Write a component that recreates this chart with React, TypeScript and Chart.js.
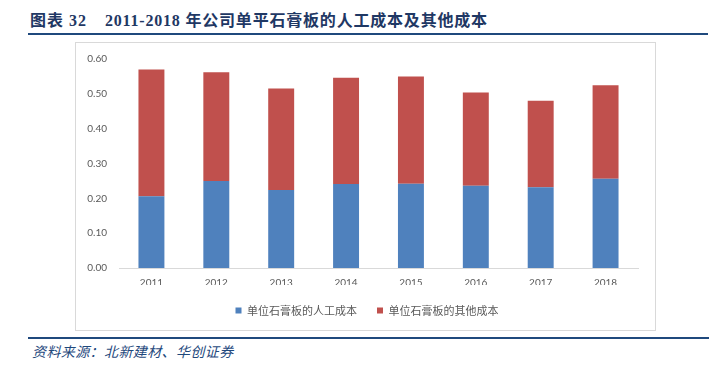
import React, { useEffect, useRef } from "react";
import { Chart, registerables } from "chart.js";

Chart.register(...registerables);

const years = ["2011", "2012", "2013", "2014", "2015", "2016", "2017", "2018"];
const laborCost = [0.206, 0.25, 0.224, 0.241, 0.242, 0.236, 0.232, 0.256];
const otherCost = [0.364, 0.312, 0.291, 0.305, 0.308, 0.268, 0.248, 0.269];
const seriesNames = ["单位石膏板的人工成本", "单位石膏板的其他成本"];
const yTicksMax = 0.6;
const yStep = 0.1;

const titleLabel = "图表 32";
const titleText = "2011-2018 年公司单平石膏板的人工成本及其他成本";
const sourceText = "资料来源：北新建材、华创证券";

const legendShift = {
  id: "legendShift",
  afterLayout(chart: any) {
    const lg = chart.legend;
    if (lg) {
      lg.left += 10;
      lg.right += 10;
    }
  },
};

export default function App() {
  const canvasRef = useRef<HTMLCanvasElement | null>(null);

  useEffect(() => {
    const canvas = canvasRef.current;
    if (!canvas) return;
    const chart = new Chart(canvas, {
      type: "bar",
      data: {
        labels: years,
        datasets: [
          {
            label: seriesNames[0],
            data: laborCost,
            backgroundColor: "#4F81BD",
            borderWidth: 0,
            barPercentage: 0.4,
            categoryPercentage: 1,
          },
          {
            label: seriesNames[1],
            data: otherCost,
            backgroundColor: "#C0504D",
            borderWidth: 0,
            barPercentage: 0.4,
            categoryPercentage: 1,
          },
        ],
      },
      plugins: [legendShift],
      options: {
        responsive: false,
        animation: false,
        devicePixelRatio: 1,
        layout: { padding: { top: 16, right: 17, bottom: 4, left: 0 } },
        plugins: {
          tooltip: { enabled: false },
          legend: {
            position: "bottom",
            labels: {
              boxWidth: 6,
              boxHeight: 6,
              padding: 20,
              color: "#595959",
              font: { family: "'Noto Sans CJK SC', sans-serif", size: 11 },
            },
          },
        },
        scales: {
          x: {
            stacked: true,
            grid: { display: false, drawTicks: false },
            border: { display: true, color: "#D9D9D9", width: 1 },
            ticks: {
              color: "#595959",
              padding: 9,
              font: { family: "Lato, 'Liberation Sans', sans-serif", size: 10 },
            },
            afterFit: (s: any) => {
              s.height = 17;
            },
          },
          y: {
            stacked: true,
            min: 0,
            max: yTicksMax,
            grid: { display: false, drawTicks: false },
            border: { display: false },
            ticks: {
              stepSize: yStep,
              color: "#595959",
              padding: 12,
              font: { family: "Lato, 'Liberation Sans', sans-serif", size: 10 },
              callback: (v: any) => Number(v).toFixed(2),
            },
            afterFit: (s: any) => {
              s.width = 43;
              s.paddingTop = 6;
              s.paddingBottom = 6;
            },
          },
        },
      },
    });
    return () => chart.destroy();
  }, []);

  const navy = "#1F3864";
  const lineBlue = "#1F497D";

  return (
    <div
      style={{
        position: "fixed",
        left: 0,
        top: 0,
        width: 709,
        height: 369,
        background: "#fff",
        overflow: "hidden",
      }}
    >
      <div
        style={{
          position: "absolute",
          left: 30,
          top: 11,
          lineHeight: "20px",
          fontSize: 16,
          fontWeight: "bold",
          letterSpacing: 1,
          color: navy,
          fontFamily: "'Liberation Serif', 'Noto Sans CJK SC', serif",
          whiteSpace: "nowrap",
        }}
      >
        {titleLabel}
      </div>
      <div
        style={{
          position: "absolute",
          left: 105,
          top: 11,
          lineHeight: "20px",
          fontSize: 16,
          fontWeight: "bold",
          letterSpacing: 0.8,
          color: navy,
          fontFamily: "'Liberation Serif', 'Noto Sans CJK SC', serif",
          whiteSpace: "nowrap",
        }}
      >
        {titleText}
      </div>
      <div
        style={{
          position: "absolute",
          left: 28,
          top: 33,
          width: 680,
          height: 2,
          background: lineBlue,
        }}
      />
      <div
        style={{
          position: "absolute",
          left: 75,
          top: 42,
          width: 581,
          height: 289,
          boxSizing: "border-box",
          border: "1px solid #D9D9D9",
        }}
      >
        <canvas
          ref={canvasRef}
          width={579}
          height={287}
          style={{ display: "block", width: 579, height: 287 }}
        />
      </div>
      <div
        style={{
          position: "absolute",
          left: 28,
          top: 337,
          width: 681,
          height: 1.5,
          background: lineBlue,
        }}
      />
      <div
        style={{
          position: "absolute",
          left: 32,
          top: 342,
          lineHeight: "18px",
          fontSize: 14,
          fontStyle: "italic",
          letterSpacing: 0.4,
          color: lineBlue,
          fontFamily: "'Noto Sans CJK SC', sans-serif",
          whiteSpace: "nowrap",
        }}
      >
        {sourceText}
      </div>
    </div>
  );
}
